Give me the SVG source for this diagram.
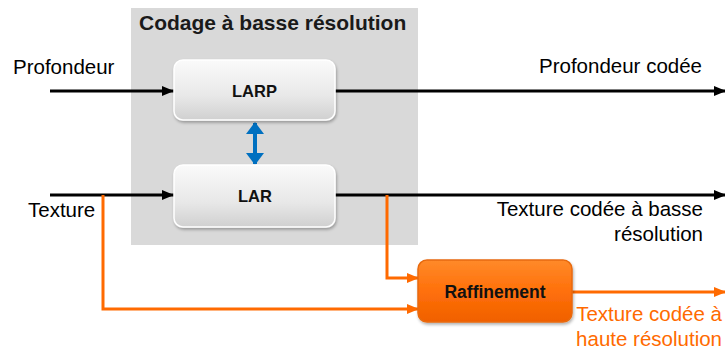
<svg xmlns="http://www.w3.org/2000/svg" width="725" height="352" viewBox="0 0 725 352">
<defs>
<linearGradient id="gNode" x1="0" y1="0" x2="0" y2="1">
<stop offset="0" stop-color="#FAFAFA"/>
<stop offset="0.6" stop-color="#E8E8E8"/>
<stop offset="1" stop-color="#D0D0D0"/>
</linearGradient>
<linearGradient id="gOrange" x1="0" y1="0" x2="0" y2="1">
<stop offset="0" stop-color="#FF8A2A"/>
<stop offset="0.5" stop-color="#FF700A"/>
<stop offset="1" stop-color="#F06000"/>
</linearGradient>
<filter id="sh" x="-10%" y="-10%" width="130%" height="130%">
<feDropShadow dx="1" dy="2" stdDeviation="1.5" flood-color="#000" flood-opacity="0.3"/>
</filter>
<marker id="aBlack" markerWidth="12" markerHeight="10" refX="12" refY="5" orient="auto" markerUnits="userSpaceOnUse">
<path d="M0,0 L12,5 L0,10 Z" fill="#000"/>
</marker>
<marker id="aOrange" markerWidth="12" markerHeight="10" refX="12" refY="5" orient="auto" markerUnits="userSpaceOnUse">
<path d="M0,0 L12,5 L0,10 Z" fill="#FF6A00"/>
</marker>
<marker id="aBlue" markerWidth="12" markerHeight="18" refX="11" refY="9" orient="auto-start-reverse" markerUnits="userSpaceOnUse">
<path d="M0,0 L12,9 L0,18 Z" fill="#0070C0"/>
</marker>
</defs>
<style>
.lbl{font-family:"Liberation Sans",Arial,sans-serif;font-size:20.5px;fill:#000}
.olbl{font-family:"Liberation Sans",Arial,sans-serif;font-size:20.5px;fill:#FF6A00}
.title{font-family:"Liberation Sans",Arial,sans-serif;font-size:21px;font-weight:bold;fill:#1a1a1a}
.ntxt{font-family:"Liberation Sans",Arial,sans-serif;font-weight:bold;fill:#111;text-anchor:middle}
.blk{stroke:#000;stroke-width:3;fill:none}
.org{stroke:#FF6A00;stroke-width:3;fill:none}
.node{fill:url(#gNode);stroke:#FFFFFF;stroke-width:1.5;filter:url(#sh)}
</style>
<g id="group-lowres">
<rect x="131" y="8" width="287" height="237" fill="#D9D9D9"/>
<text class="title" x="139" y="30">Codage à basse résolution</text>
</g>
<g id="connectors">
<line class="blk" x1="50" y1="91" x2="174" y2="91" marker-end="url(#aBlack)"/>
<line class="blk" x1="50" y1="195" x2="174" y2="195" marker-end="url(#aBlack)"/>
<line class="blk" x1="335" y1="91" x2="726" y2="91" marker-end="url(#aBlack)"/>
<line class="blk" x1="335" y1="195" x2="726" y2="195" marker-end="url(#aBlack)"/>
<polyline class="org" points="103,195 103,309 419,309" marker-end="url(#aOrange)"/>
<polyline class="org" points="387,195 387,278 419,278" marker-end="url(#aOrange)"/>
<line class="org" x1="572" y1="292" x2="726" y2="292" marker-end="url(#aOrange)"/>
<line stroke="#0070C0" stroke-width="4" x1="255" y1="123" x2="255" y2="164" marker-start="url(#aBlue)" marker-end="url(#aBlue)"/>
</g>
<g id="node-larp">
<rect class="node" x="174" y="60" width="161" height="60" rx="9"/>
<text class="ntxt" x="254.5" y="97" font-size="16.5">LARP</text>
</g>
<g id="node-lar">
<rect class="node" x="174" y="165" width="161" height="62" rx="9"/>
<text class="ntxt" x="255" y="202" font-size="16.5">LAR</text>
</g>
<g id="node-raffinement">
<rect x="418" y="260" width="154" height="62" rx="9" fill="url(#gOrange)" stroke="#E86A10" stroke-width="1.5" filter="url(#sh)"/>
<text class="ntxt" x="495" y="298" font-size="17.5">Raffinement</text>
</g>
<g id="labels">
<text class="lbl" x="13" y="74">Profondeur</text>
<text class="lbl" x="28" y="217">Texture</text>
<text class="lbl" x="702" y="73" text-anchor="end">Profondeur codée</text>
<text class="lbl" x="703" y="216" text-anchor="end">Texture codée à basse</text>
<text class="lbl" x="703" y="241" text-anchor="end">résolution</text>
<text class="olbl" x="722" y="321" text-anchor="end">Texture codée à</text>
<text class="olbl" x="722" y="346" text-anchor="end">haute résolution</text>
</g>
</svg>
